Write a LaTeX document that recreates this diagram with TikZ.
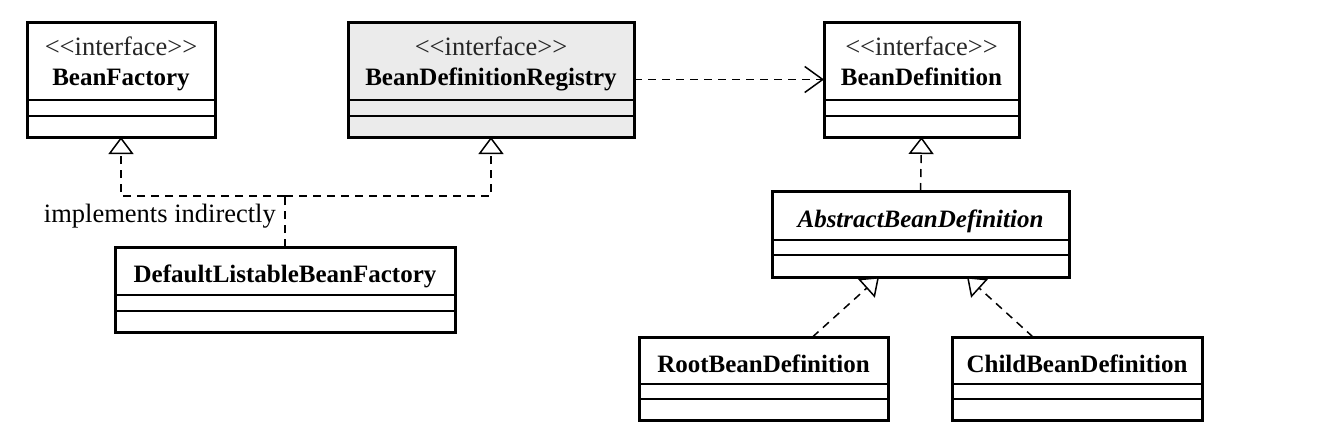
\documentclass[tikz,border=0pt]{standalone}
\usepackage{fontspec}
\setmainfont{Liberation Serif}[Ligatures=TeXOff]
\usetikzlibrary{arrows.meta}
\tikzset{
  x=1pt, y=-1pt,
  umlbox/.style={draw=black, line width=3pt, inner sep=0pt, outer sep=0pt, rectangle},
  secline/.style={line width=1.4pt},
  umltxt/.style={font=\fontsize{26.5}{30}\selectfont, inner sep=0pt, anchor=base},
  stereo/.style={umltxt, text=black!85},
  cname/.style={umltxt, font=\fontsize{25}{28}\selectfont\bfseries},
  dep/.style={line width=1.5pt, dash pattern=on 8pt off 6pt},
  realize/.style={dep, -{Triangle[open, length=17pt, width=25pt, line width=1.5pt, fill=white]}},
  uses/.style={dep, -{Straight Barb[length=18pt, width=26pt, line width=1.5pt]}},
}
\begin{document}
\begin{tikzpicture}
\useasboundingbox[fill=white] (0,0) rectangle (1342,442);

% BeanFactory
\node[umlbox, minimum width=188pt, minimum height=115pt] (bf) at (121,79.5) {};
\draw[secline] (27,100) -- (215,100) (27,116) -- (215,116);
\node[stereo] (bfs) at (121,55) {<<interface>>};
\node[cname] (bfn) at (121,85) {BeanFactory};

% BeanDefinitionRegistry
\node[umlbox, fill=black!8, minimum width=286pt, minimum height=115pt] (bdr) at (491,79.5) {};
\draw[secline] (348,100) -- (634,100) (348,116) -- (634,116);
\node[stereo] (bdrs) at (491,55) {<<interface>>};
\node[cname] (bdrn) at (491,85) {BeanDefinitionRegistry};

% BeanDefinition
\node[umlbox, minimum width=195pt, minimum height=115pt] (bd) at (921.5,79.5) {};
\draw[secline] (824,100) -- (1019,100) (824,116) -- (1019,116);
\node[stereo] (bds) at (921.5,55) {<<interface>>};
\node[cname] (bdn) at (921.5,85) {BeanDefinition};

% DefaultListableBeanFactory
\node[umlbox, minimum width=340pt, minimum height=85pt] (dl) at (285,289.5) {};
\draw[secline] (115,295) -- (455,295) (115,311) -- (455,311);
\node[cname] (dln) at (285,282) {DefaultListableBeanFactory};

% AbstractBeanDefinition
\node[umlbox, minimum width=297pt, minimum height=86pt] (abd) at (920.5,234) {};
\draw[secline] (772,240) -- (1069,240) (772,255) -- (1069,255);
\node[cname, font=\fontsize{25}{28}\selectfont\bfseries\itshape] (abdn) at (920.5,227) {AbstractBeanDefinition};

% RootBeanDefinition
\node[umlbox, minimum width=249pt, minimum height=83pt] (root) at (763.5,378.5) {};
\draw[secline] (639,384) -- (888,384) (639,399) -- (888,399);
\node[cname] (rootn) at (763.5,372) {RootBeanDefinition};

% ChildBeanDefinition
\node[umlbox, minimum width=250pt, minimum height=83pt] (child) at (1077,378.5) {};
\draw[secline] (952,384) -- (1202,384) (952,399) -- (1202,399);
\node[cname] (childn) at (1077,372) {ChildBeanDefinition};

% connectors
\coordinate (j) at (285,196);
\draw[dep] (dl.north) -- (j);
\draw[realize] (j) -| (bf.south);
\draw[realize] (j) -| (bdr.south);
\node[umltxt, anchor=base east] (lbl) at (276,222) {implements indirectly};

\draw[uses] (bdr.east) -- (bd.west);
\draw[realize] (abd.north) -- (bd.south);
\draw[realize] ([xshift=49pt]root.north) -- ([xshift=-41.5pt]abd.south);
\draw[realize] ([xshift=-44pt]child.north) -- ([xshift=46.5pt]abd.south);
\end{tikzpicture}
\end{document}
